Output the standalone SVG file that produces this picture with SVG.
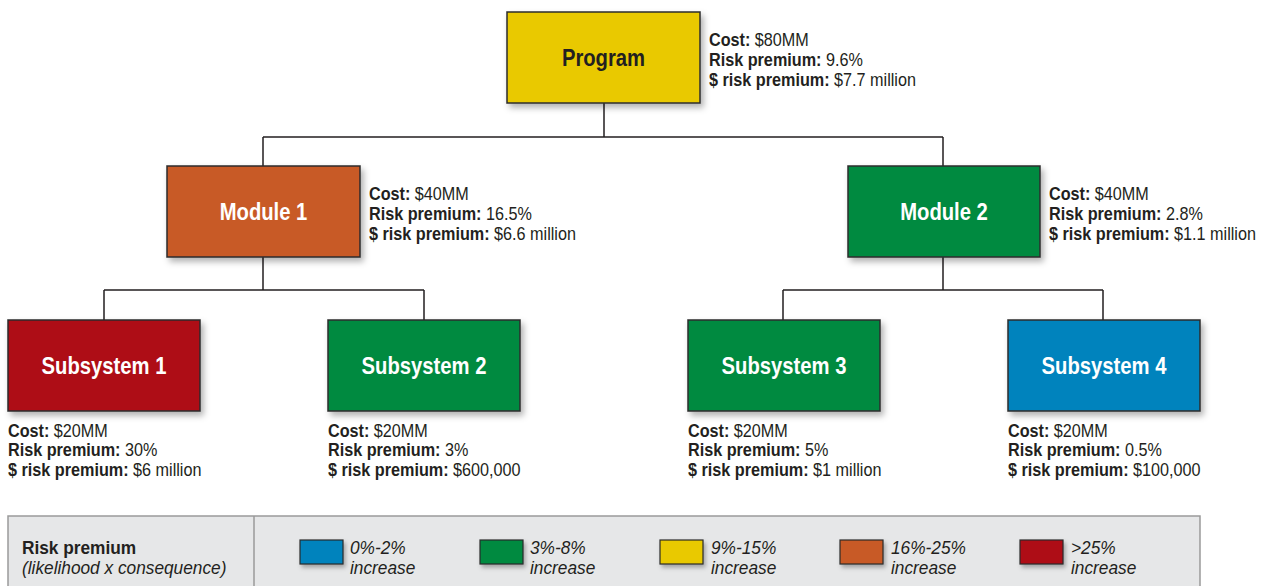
<svg xmlns="http://www.w3.org/2000/svg" width="1270" height="586" viewBox="0 0 1270 586">
<style>
.box{stroke:#2b2b2b;stroke-width:1.5;filter:url(#sh)}
.lbl{font-family:"Liberation Sans Narrow","Liberation Sans",Arial,sans-serif;font-weight:bold;font-size:23px;text-anchor:middle;dominant-baseline:central}
.info{font-family:"Liberation Sans Narrow","Liberation Sans",Arial,sans-serif;font-size:18px;fill:#231f20}
.b{font-weight:bold}
.conn{stroke:#231f20;stroke-width:1.5;fill:none}
.leg{font-family:"Liberation Sans Narrow","Liberation Sans",Arial,sans-serif;font-size:18px;fill:#231f20}
.it{font-style:italic}
.sw{stroke:#2b2b2b;stroke-width:1.2;filter:url(#sh2)}
</style>
<defs>
<filter id="sh" x="-10%" y="-10%" width="130%" height="140%">
<feDropShadow dx="3" dy="4" stdDeviation="3" flood-color="#000" flood-opacity="0.3"/>
</filter>
<filter id="sh2" x="-20%" y="-20%" width="150%" height="170%">
<feDropShadow dx="2" dy="3" stdDeviation="2" flood-color="#000" flood-opacity="0.3"/>
</filter>
</defs>
<rect width="1270" height="586" fill="#fff"/>
<g id="connectors">
<path class="conn" d="M604 103V137M263 137H943M263 137V166M943 137V166"/>
<path class="conn" d="M263 257V290M104 290H424M104 290V320M424 290V320"/>
<path class="conn" d="M943 257V290M783 290H1103M783 290V320M1103 290V320"/>
</g>
<g id="program">
<rect class="box" x="507" y="12" width="193" height="91" fill="#e9c900"/>
<g transform="translate(603.5,58) scale(0.88,1)"><text class="lbl" fill="#231f20">Program</text></g>
<g transform="translate(709,0) scale(0.9,1)">
<text class="info" y="46"><tspan class="b">Cost:</tspan> $80MM</text>
<text class="info" y="66"><tspan class="b">Risk premium:</tspan> 9.6%</text>
<text class="info" y="86"><tspan class="b">$ risk premium:</tspan> $7.7 million</text>
</g>
</g>
<g id="module1">
<rect class="box" x="167" y="166" width="193" height="91" fill="#c85a27"/>
<g transform="translate(263.5,212) scale(0.88,1)"><text class="lbl" fill="#fff">Module 1</text></g>
<g transform="translate(369,0) scale(0.9,1)">
<text class="info" y="200"><tspan class="b">Cost:</tspan> $40MM</text>
<text class="info" y="220"><tspan class="b">Risk premium:</tspan> 16.5%</text>
<text class="info" y="240"><tspan class="b">$ risk premium:</tspan> $6.6 million</text>
</g>
</g>
<g id="module2">
<rect class="box" x="848" y="166" width="192" height="91" fill="#008a40"/>
<g transform="translate(944,212) scale(0.88,1)"><text class="lbl" fill="#fff">Module 2</text></g>
<g transform="translate(1049,0) scale(0.9,1)">
<text class="info" y="200"><tspan class="b">Cost:</tspan> $40MM</text>
<text class="info" y="220"><tspan class="b">Risk premium:</tspan> 2.8%</text>
<text class="info" y="240"><tspan class="b">$ risk premium:</tspan> $1.1 million</text>
</g>
</g>
<g id="subsystem1">
<rect class="box" x="8" y="320" width="192" height="91" fill="#ae0e16"/>
<g transform="translate(104,366) scale(0.88,1)"><text class="lbl" fill="#fff">Subsystem 1</text></g>
<g transform="translate(8,0) scale(0.9,1)">
<text class="info" y="437"><tspan class="b">Cost:</tspan> $20MM</text>
<text class="info" y="456"><tspan class="b">Risk premium:</tspan> 30%</text>
<text class="info" y="476"><tspan class="b">$ risk premium:</tspan> $6 million</text>
</g>
</g>
<g id="subsystem2">
<rect class="box" x="328" y="320" width="192" height="91" fill="#008a40"/>
<g transform="translate(424,366) scale(0.88,1)"><text class="lbl" fill="#fff">Subsystem 2</text></g>
<g transform="translate(328,0) scale(0.9,1)">
<text class="info" y="437"><tspan class="b">Cost:</tspan> $20MM</text>
<text class="info" y="456"><tspan class="b">Risk premium:</tspan> 3%</text>
<text class="info" y="476"><tspan class="b">$ risk premium:</tspan> $600,000</text>
</g>
</g>
<g id="subsystem3">
<rect class="box" x="688" y="320" width="192" height="91" fill="#008a40"/>
<g transform="translate(784,366) scale(0.88,1)"><text class="lbl" fill="#fff">Subsystem 3</text></g>
<g transform="translate(688,0) scale(0.9,1)">
<text class="info" y="437"><tspan class="b">Cost:</tspan> $20MM</text>
<text class="info" y="456"><tspan class="b">Risk premium:</tspan> 5%</text>
<text class="info" y="476"><tspan class="b">$ risk premium:</tspan> $1 million</text>
</g>
</g>
<g id="subsystem4">
<rect class="box" x="1008" y="320" width="192" height="91" fill="#0083bd"/>
<g transform="translate(1104,366) scale(0.88,1)"><text class="lbl" fill="#fff">Subsystem 4</text></g>
<g transform="translate(1008,0) scale(0.9,1)">
<text class="info" y="437"><tspan class="b">Cost:</tspan> $20MM</text>
<text class="info" y="456"><tspan class="b">Risk premium:</tspan> 0.5%</text>
<text class="info" y="476"><tspan class="b">$ risk premium:</tspan> $100,000</text>
</g>
</g>
<g id="legend">
<rect x="8" y="516" width="1192" height="80" fill="#e6e7e8" stroke="#9a9a9a" stroke-width="1.5"/>
<line x1="254" y1="516" x2="254" y2="586" stroke="#9a9a9a" stroke-width="1.5"/>
<g transform="translate(22,0) scale(0.96,1)">
<text class="leg b" y="554">Risk premium</text>
<text class="leg it" y="574">(likelihood x consequence)</text>
</g>
<rect class="sw" x="300" y="540" width="43" height="24" fill="#0083bd"/>
<g transform="translate(350,0) scale(0.96,1)"><text class="leg it" y="554">0%-2%</text><text class="leg it" y="574">increase</text></g>
<rect class="sw" x="480" y="540" width="43" height="24" fill="#008a40"/>
<g transform="translate(530,0) scale(0.96,1)"><text class="leg it" y="554">3%-8%</text><text class="leg it" y="574">increase</text></g>
<rect class="sw" x="660" y="540" width="43" height="24" fill="#e9c900"/>
<g transform="translate(711,0) scale(0.96,1)"><text class="leg it" y="554">9%-15%</text><text class="leg it" y="574">increase</text></g>
<rect class="sw" x="840" y="540" width="43" height="24" fill="#c85a27"/>
<g transform="translate(891,0) scale(0.96,1)"><text class="leg it" y="554">16%-25%</text><text class="leg it" y="574">increase</text></g>
<rect class="sw" x="1020" y="540" width="43" height="24" fill="#ae0e16"/>
<g transform="translate(1071,0) scale(0.96,1)"><text class="leg it" y="554">&gt;25%</text><text class="leg it" y="574">increase</text></g>
</g>
</svg>
